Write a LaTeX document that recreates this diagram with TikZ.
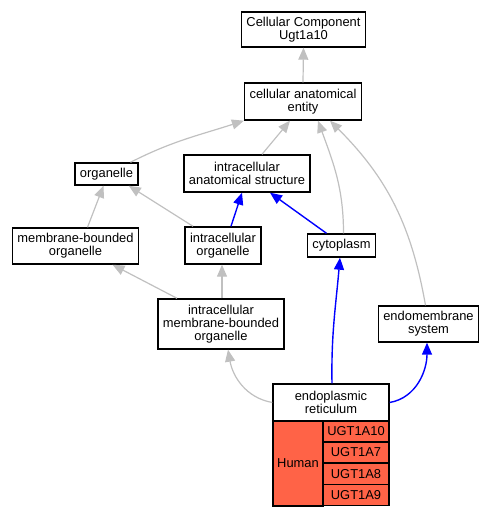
\documentclass[tikz,border=0pt]{standalone}
\usepackage{fontspec}
\setmainfont{Liberation Sans}
\usetikzlibrary{arrows.meta}

\definecolor{isagrey}{HTML}{C0C0C0}
\definecolor{partblue}{HTML}{0000FF}
\definecolor{tomato}{HTML}{FF6347}

\tikzset{
    term/.style={draw, line width=1.4pt, fill=white, align=center, inner xsep=5pt, inner ysep=0pt,
        font=\fontsize{12.9}{13.3}\selectfont},
    cell/.style={draw, line width=1.1pt, fill=tomato, align=center, inner sep=0pt,
        font=\fontsize{12.9}{13.3}\selectfont},
    isa/.style={->, draw=isagrey, line width=1.2pt},
    partof/.style={->, draw=partblue, line width=1.4pt}
}

\begin{document}
\begin{tikzpicture}[x=1pt, y=1pt, >={Triangle[length=12pt,width=10pt]}]

    % the frame
    \useasboundingbox (0,0) rectangle (495,517);

    % the terms
    \node[term, minimum height=35] (cc) at (303.5,487.5) {Cellular Component\\Ugt1a10};
    \node[term, minimum height=37] (cae) at (303,415.5) {cellular anatomical\\entity};
    \node[term, minimum height=22] (org) at (106.5,343) {organelle};
    \node[term, minimum height=37] (ias) at (247,343.5) {intracellular\\anatomical structure};
    \node[term, minimum height=36] (mbo) at (75.5,271) {membrane-bounded\\organelle};
    \node[term, minimum height=37] (io) at (223,271.5) {intracellular\\organelle};
    \node[term, minimum height=23] (cyto) at (341.5,271.5) {cytoplasm};
    \node[term, minimum height=50] (imbo) at (221,193) {intracellular\\membrane-bounded\\organelle};
    \node[term, minimum height=36] (ems) at (428.5,193) {endomembrane\\system};
    \node[term, minimum height=37, minimum width=116] (er) at (331,114.5) {endoplasmic\\reticulum};

    % the genes
    \node[cell, minimum width=50, minimum height=85] (human) at (298,53.5) {Human};
    \foreach \g/\y in {UGT1A10/85.5, UGT1A7/64.5, UGT1A8/43.25, UGT1A9/21.75} {
        \node[cell, minimum width=66, minimum height=21] (\g) at (356,\y) {\g};
    }

    % is a
    \draw[isa] (cae.north) -- (cc.south);
    \draw[isa] ([xshift=24]org.north) to[out=27, in=198] (cae.south west);
    \draw[isa] ([xshift=15]ias.north) -- ([xshift=-13]cae.south);
    \draw[isa] ([xshift=2]cyto.north) to[out=90, in=290] ([xshift=15]cae.south);
    \draw[isa] ([xshift=-3]ems.north) to[out=100, in=315] ([xshift=27]cae.south);
    \draw[isa] ([xshift=12]mbo.north) -- ([xshift=-3]org.south);
    \draw[isa] ([xshift=-30]io.north) -- ([xshift=-10]org.south east);
    \draw[isa] ([xshift=-44]imbo.north) -- ([xshift=37]mbo.south);
    \draw[isa] ([xshift=1]imbo.north) -- ([xshift=-1]io.south);
    \draw[isa] (er.west) to[out=170, in=280] ([xshift=7]imbo.south);

    % part of
    \draw[partof] ([xshift=8]io.north) -- ([xshift=-5]ias.south);
    \draw[partof] ([xshift=-15]cyto.north) -- ([xshift=23]ias.south);
    \draw[partof] ([xshift=1]er.north) to[out=91, in=265] ([xshift=-1.5]cyto.south);
    \draw[partof] (er.east) to[out=10, in=270] ([xshift=-1.5]ems.south);

\end{tikzpicture}
\end{document}
